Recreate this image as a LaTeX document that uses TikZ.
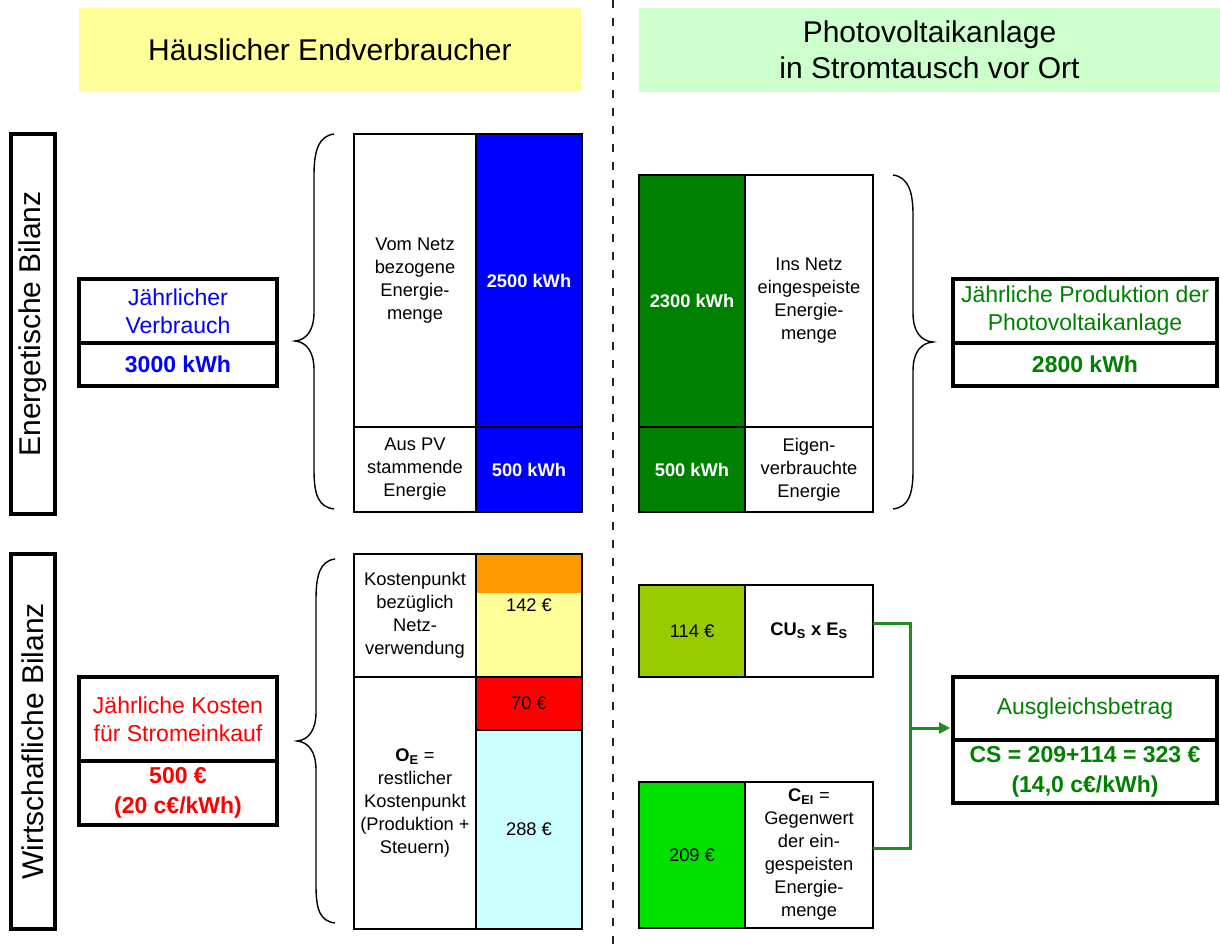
\documentclass[tikz,border=0pt]{standalone}
\usepackage{fontspec}
\setmainfont{Liberation Sans}
\usetikzlibrary{arrows.meta}
\definecolor{hdrY}{HTML}{FFFF99}
\definecolor{hdrG}{HTML}{CCFFCC}
\definecolor{pvblue}{HTML}{0000FF}
\definecolor{dkgreen}{HTML}{008000}
\definecolor{cOlive}{HTML}{99CC00}
\definecolor{brgreen}{HTML}{00E100}
\definecolor{cOrange}{HTML}{FF9900}
\definecolor{cYellow}{HTML}{FFFF99}
\definecolor{cRed}{HTML}{FF0000}
\definecolor{cCyan}{HTML}{CCFFFF}
\definecolor{lnGreen}{HTML}{1E8C1E}
\tikzset{
  box/.style={anchor=north west, inner sep=0pt, outer sep=0pt, align=center},
  hdr/.style={box, font=\fontsize{30}{36}\selectfont},
  side/.style={box, draw=black, line width=4pt},
  sidetext/.style={rotate=90, font=\fontsize{30}{36}\selectfont},
  info/.style={box, draw=black, line width=4pt, font=\fontsize{23}{28}\selectfont},
  infob/.style={box, draw=black, line width=4pt, font=\fontsize{23}{30}\selectfont\bfseries},
  cell/.style={box, draw=black, line width=2.2pt, font=\fontsize{18.3}{23}\selectfont},
  cellb/.style={box, draw=black, line width=2.2pt, text=white, font=\fontsize{18.3}{23}\selectfont\bfseries},
  fillonly/.style={box, draw=none},
  val/.style={inner sep=0pt, font=\fontsize{18.3}{23}\selectfont},
  dashline/.style={line width=2.4pt, draw=black!85, dash pattern=on 8pt off 10pt},
  brace/.style={line width=1.4pt, draw=black},
  conn/.style={line width=3pt, draw=lnGreen},
}
\begin{document}
\begin{tikzpicture}[x=1pt,y=-1pt]
\fill[white] (0,0) rectangle (1220,949);
\useasboundingbox (0,0) rectangle (1220,949);

% headers
\node[hdr, fill=hdrY, minimum width=502pt, minimum height=84pt] (hdrL) at (79,8) {Häuslicher Endverbraucher};
\node[hdr, fill=hdrG, minimum width=581pt, minimum height=84pt] (hdrR) at (639,8) {Photovoltaikanlage\\in Stromtausch vor Ort};

% dashed separator
\coordinate (dT) at (613,0);
\coordinate (dB) at (613,949);
\draw[dashline] (dT) -- (dB);

% side labels
\node[side, minimum width=44pt, minimum height=380pt] (sideE) at (11,134) {};
\node[sidetext] (sideEt) at (sideE.center) {Energetische Bilanz};
\node[side, minimum width=44pt, minimum height=375pt] (sideW) at (11,554) {};
\node[sidetext] (sideWt) at (sideW.center) {Wirtschafliche Bilanz};

% Jaehrlicher Verbrauch
\node[info, text=pvblue, minimum width=198pt, minimum height=64pt] (jvA) at (79,279) {Jährlicher\\Verbrauch};
\node[infob, text=pvblue, minimum width=198pt, minimum height=43pt] (jvB) at (79,343) {3000 kWh};

% left energetic table
\node[cell, minimum width=122pt, minimum height=293pt] (eT1) at (354,134) {Vom Netz\\bezogene\\Energie-\\menge};
\node[cellb, fill=pvblue, minimum width=106pt, minimum height=293pt] (eB1) at (476,134) {2500 kWh};
\node[cell, minimum width=122pt, minimum height=85pt] (eT2) at (354,427) {Aus PV\\stammende\\Energie};
\node[cellb, fill=pvblue, minimum width=106pt, minimum height=85pt] (eB2) at (476,427) {500 kWh};

% left economic table
\node[cell, minimum width=122pt, minimum height=123pt] (kT1) at (354,554) {Kostenpunkt\\bezüglich\\Netz-\\verwendung};
\node[fillonly, fill=cOrange, minimum width=106pt, minimum height=39pt] (kOr) at (476,554) {};
\node[fillonly, fill=cYellow, minimum width=106pt, minimum height=84pt] (kYe) at (476,593) {};
\node[cell, minimum width=106pt, minimum height=123pt] (kFr) at (476,554) {};
\node[val] (k142) at (529,605) {142 €};
\node[cell, minimum width=122pt, minimum height=252pt] (kT2) at (354,677) {\textbf{O\textsubscript{E}} =\\restlicher\\Kostenpunkt\\(Produktion +\\Steuern)};
\node[cell, fill=cRed, minimum width=106pt, minimum height=53pt] (kRd) at (476,677) {70 €};
\node[cell, fill=cCyan, minimum width=106pt, minimum height=199pt] (kCy) at (476,730) {288 €};

% Jaehrliche Kosten
\node[info, text=cRed, minimum width=198pt, minimum height=84pt] (jkA) at (79,677) {Jährliche Kosten\\für Stromeinkauf};
\node[infob, text=cRed, minimum width=198pt, minimum height=64pt] (jkB) at (79,761) {500 €\\(20 c€/kWh)};

% right energetic table
\node[cellb, fill=dkgreen, minimum width=106pt, minimum height=252pt] (pG1) at (639,175) {2300 kWh};
\node[cell, minimum width=128pt, minimum height=252pt] (pT1) at (745,175) {Ins Netz\\eingespeiste\\Energie-\\menge};
\node[cellb, fill=dkgreen, minimum width=106pt, minimum height=85pt] (pG2) at (639,427) {500 kWh};
\node[cell, minimum width=128pt, minimum height=85pt] (pT2) at (745,427) {Eigen-\\verbrauchte\\Energie};

% Jaehrliche Produktion
\node[info, text=dkgreen, minimum width=264pt, minimum height=64pt] (jpA) at (953,279) {Jährliche Produktion der\\Photovoltaikanlage};
\node[infob, text=dkgreen, minimum width=264pt, minimum height=43pt] (jpB) at (953,343) {2800 kWh};

% right economic
\node[cell, fill=cOlive, minimum width=106pt, minimum height=92pt] (rO) at (639,585) {114 €};
\node[cell, font=\fontsize{18.3}{23}\selectfont\bfseries, minimum width=128pt, minimum height=92pt] (rCU) at (745,585) {CU\textsubscript{S} x E\textsubscript{S}};
\node[cell, fill=brgreen, minimum width=106pt, minimum height=146pt] (rB) at (639,782) {209 €};
\node[cell, minimum width=128pt, minimum height=146pt] (rCE) at (745,782) {\textbf{C\textsubscript{EI}} =\\Gegenwert\\der ein-\\gespeisten\\Energie-\\menge};

% Ausgleichsbetrag
\node[info, text=dkgreen, minimum width=264pt, minimum height=63pt] (auA) at (953,677) {Ausgleichsbetrag};
\node[infob, text=dkgreen, minimum width=264pt, minimum height=63pt] (auB) at (953,740) {CS = 209+114 = 323 €\\(14,0 c€/kWh)};

% connectors
\coordinate (jn) at (910,728);
\draw[conn] ([yshift=8pt]rCU.east) -| (jn) |- ([yshift=7pt]rCE.east);
\draw[conn, -{Triangle[length=11pt,width=11pt]}, shorten >=3pt] (jn) -- (auA.west |- jn);

% braces
\draw[brace] (334,134) .. controls (319,136) and (314,150) .. (314,175) -- (314,312) .. controls (314,331) and (306,340) .. (295,341) .. controls (306,342) and (314,351) .. (314,370) -- (314,470) .. controls (314,496) and (319,507) .. (334,509);
\draw[brace] (335,559) .. controls (320,561) and (316,575) .. (316,600) -- (316,712) .. controls (316,731) and (308,740) .. (297,741) .. controls (308,742) and (316,751) .. (316,770) -- (316,885) .. controls (316,910) and (320,921) .. (335,923);
\draw[brace] (893,175) .. controls (908,177) and (913,191) .. (913,215) -- (913,313) .. controls (913,332) and (921,341) .. (933,342) .. controls (921,343) and (913,352) .. (913,371) -- (913,470) .. controls (913,496) and (908,507) .. (893,509);
\end{tikzpicture}
\end{document}
